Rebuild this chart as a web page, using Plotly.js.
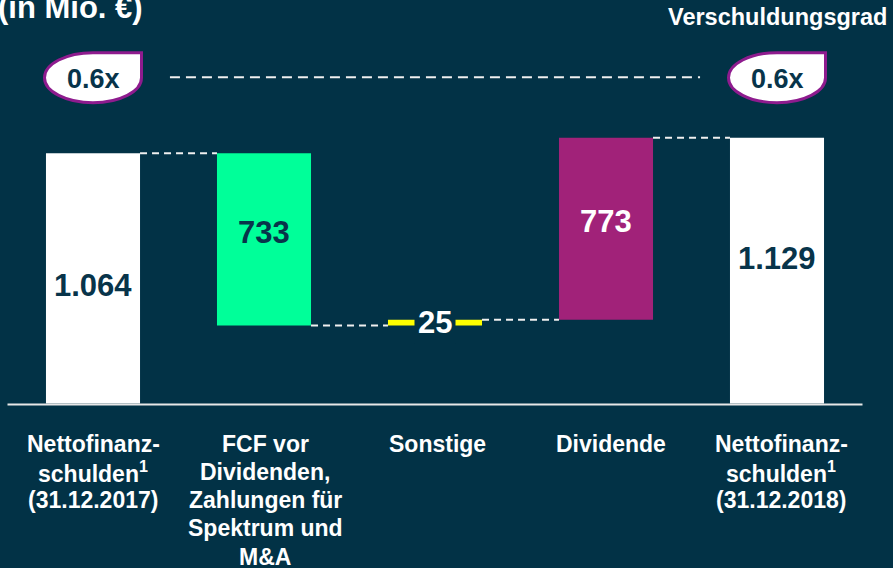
<!DOCTYPE html>
<html>
<head>
<meta charset="utf-8">
<script src="https://cdn.plot.ly/plotly-3.0.1.min.js"></script>
<style>
html,body{margin:0;padding:0;background:#023246;}
#chart{width:893px;height:568px;}
</style>
</head>
<body>
<div id="chart"></div>
<script>
// ---- data ----
var categories = [
  "Nettofinanz-<br>schulden<sup>1</sup><br>(31.12.2017)",
  "FCF vor<br>Dividenden,<br>Zahlungen für<br>Spektrum und<br>M&A",
  "Sonstige",
  "Dividende",
  "Nettofinanz-<br>schulden<sup>1</sup><br>(31.12.2018)"
];
var startValue = 1064;
var changes = [-733, 25, 773];
var endValue = 1129;
var valueLabels = ["1.064", "733", "25", "773", "1.129"];
var leverageLabels = ["0.6x", "0.6x"];
var titleText = "(in Mio. €)";
var leverageTitle = "Verschuldungsgrad";

// ---- styling ----
var BG = "#023246";
var NAVY = "#08344a";
var barColors = ["#FFFFFF", "#00FF99", "#FFFF00", "#A12279", "#FFFFFF"];
var labelColors = [NAVY, NAVY, "#FFFFFF", "#FFFFFF", NAVY];
var labelShift = [-7, 7, 0, 7, 12];

// ---- build waterfall geometry from data ----
var levels = [startValue];
changes.forEach(function (c) { levels.push(levels[levels.length - 1] + c); });
var xs = [], heights = [], bases = [];
xs.push(0); heights.push(startValue); bases.push(0);
for (var i = 0; i < changes.length; i++) {
  xs.push(i + 1);
  heights.push(Math.abs(changes[i]));
  bases.push(Math.min(levels[i], levels[i + 1]));
}
xs.push(changes.length + 1); heights.push(endValue); bases.push(0);

var BW = 0.55;
var trace = {
  type: "bar",
  x: xs, y: heights, base: bases,
  width: BW,
  marker: { color: barColors, line: { width: 0 } },
  hoverinfo: "skip"
};

var H = 568;
function py(px) { return 1 - px / H; }

var shapes = [];
// baseline
shapes.push({ type: "line", xref: "x", yref: "y", x0: -0.5, x1: categories.length - 0.5, y0: -4, y1: -4,
  line: { color: "#E8E8E8", width: 2 }, layer: "above" });
// connectors
var connectorLevels = [startValue].concat(levels.slice(1));
for (var k = 0; k < connectorLevels.length; k++) {
  shapes.push({ type: "line", xref: "x", yref: "y", x0: k + BW / 2, x1: k + 1 - BW / 2,
    y0: connectorLevels[k], y1: connectorLevels[k],
    line: { color: "#F0F0F0", width: 2, dash: "7px,5px" } });
}
// bubbles
var rx = 48.5, ry = 25, kk = 0.5523;
var bubblePath = "M " + rx + "," + ry + " L " + rx + ",0" +
  " C " + rx + "," + (-kk * ry) + " " + (kk * rx) + "," + (-ry) + " 0," + (-ry) +
  " C " + (-kk * rx) + "," + (-ry) + " " + (-rx) + "," + (-kk * ry) + " " + (-rx) + ",0" +
  " C " + (-rx) + "," + (kk * ry) + " " + (-kk * rx) + "," + ry + " 0," + ry + " Z";
var bubbleX = [0, categories.length - 1];
var bubbleY = py(77.7);
bubbleX.forEach(function (bx) {
  shapes.push({ type: "path", xref: "x", yref: "paper", xsizemode: "pixel", ysizemode: "pixel",
    xanchor: bx, yanchor: bubbleY, path: bubblePath,
    fillcolor: "#FFFFFF", line: { color: "#8E1B8E", width: 3 } });
});
// dashed line between bubbles
shapes.push({ type: "line", xref: "x", yref: "paper", x0: 0.45, x1: categories.length - 1 - 0.45,
  y0: py(77.3), y1: py(77.3), line: { color: "#F0F0F0", width: 2, dash: "10px,6px" } });

var annotations = [];
// value labels
for (var j = 0; j < xs.length; j++) {
  var a = {
    x: xs[j], y: bases[j] + heights[j] / 2, xref: "x", yref: "y",
    text: "<b>" + valueLabels[j] + "</b>", showarrow: false,
    font: { family: "Liberation Sans, Arial, sans-serif", size: 31, color: labelColors[j] },
    xanchor: "center", yanchor: "middle", yshift: labelShift[j]
  };
  if (j === 2) { a.bgcolor = BG; a.borderpad = 3; }
  annotations.push(a);
}
// category labels (line by line)
var labelXShift = [0, 1, 2, 5, 4];
categories.forEach(function (c, ci) {
  var lines = c.split("<br>");
  lines.forEach(function (ln, li) {
    annotations.push({
      x: ci, y: py(443.5 + li * 28.3), xref: "x", yref: "paper",
      text: "<b>" + ln + "</b>", showarrow: false, xshift: labelXShift[ci],
      font: { family: "Liberation Sans, Arial, sans-serif", size: 23, color: "#FFFFFF" },
      xanchor: "center", yanchor: "middle"
    });
  });
});
// bubble labels
bubbleX.forEach(function (bx, bi) {
  annotations.push({
    x: bx, y: py(79), xref: "x", yref: "paper",
    text: "<b>" + leverageLabels[bi] + "</b>", showarrow: false,
    font: { family: "Liberation Sans, Arial, sans-serif", size: 27, color: NAVY },
    xanchor: "center", yanchor: "middle"
  });
});
// titles
annotations.push({
  x: -4 / 893, y: py(8), xref: "paper", yref: "paper", text: "<b>" + titleText + "</b>",
  showarrow: false, xanchor: "left", yanchor: "middle",
  font: { family: "Liberation Sans, Arial, sans-serif", size: 31, color: "#FFFFFF" }
});
annotations.push({
  x: 889 / 893, y: py(17), xref: "paper", yref: "paper", text: "<b>" + leverageTitle + "</b>",
  showarrow: false, xanchor: "right", yanchor: "middle",
  font: { family: "Liberation Sans, Arial, sans-serif", size: 23.5, color: "#FFFFFF" }
});

var pxPerUnitX = 171;
var pxPerUnitY = 0.2353;
var baselinePx = 403.5;
var layout = {
  width: 893, height: 568,
  margin: { l: 0, r: 0, t: 0, b: 0, pad: 0 },
  paper_bgcolor: BG, plot_bgcolor: BG,
  showlegend: false, hovermode: false,
  xaxis: { range: [-93 / pxPerUnitX, (893 - 93) / pxPerUnitX], visible: false, fixedrange: true },
  yaxis: { range: [-(H - baselinePx) / pxPerUnitY, baselinePx / pxPerUnitY], visible: false, fixedrange: true },
  shapes: shapes,
  annotations: annotations
};

Plotly.newPlot("chart", [trace], layout, { displayModeBar: false, staticPlot: true });
</script>
</body>
</html>
